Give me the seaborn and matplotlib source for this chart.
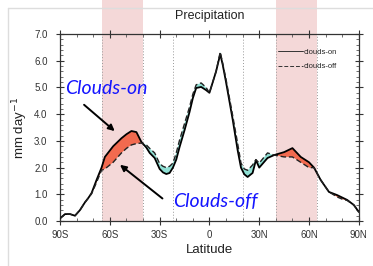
import numpy as np
import pandas as pd
import matplotlib
matplotlib.use("Agg")
import matplotlib.pyplot as plt
import matplotlib.transforms as mtransforms
from matplotlib.lines import Line2D
import seaborn as sns

# zonal mean precipitation (mm/day)
lat = [-90, -87, -84, -81, -78, -75, -73, -71, -68, -65, -63, -58, -53, -50, -47, -44, -41,
       -38, -36, -33, -30, -28, -26, -24, -22, -20, -18, -15, -12, -10, -8, -5, -2, 0, 4, 6.5, 8, 10,
       14, 17, 19, 21, 23, 26, 28, 30, 35, 39, 45, 50, 55, 60, 63, 67, 72, 77, 80, 83, 87, 90]
clouds_on = [0.10, 0.26, 0.26, 0.20, 0.41, 0.70, 0.86, 1.05, 1.54, 2.00, 2.40, 2.80, 3.10, 3.25, 3.37, 3.33, 2.96,
             2.75, 2.55, 2.36, 1.95, 1.82, 1.76, 1.80, 2.00, 2.30, 2.77, 3.40, 4.08, 4.60, 4.98, 5.02, 4.90, 4.80, 5.60, 6.25, 5.85, 5.20,
             3.80, 2.65, 2.00, 1.75, 1.65, 1.80, 2.28, 2.00, 2.36, 2.47, 2.58, 2.73, 2.40, 2.20, 2.00, 1.54, 1.09, 0.97, 0.88, 0.79, 0.60, 0.34]
clouds_off = [0.10, 0.26, 0.26, 0.20, 0.41, 0.70, 0.86, 1.02, 1.45, 1.90, 1.95, 2.20, 2.55, 2.72, 2.85, 2.90, 2.92,
              2.85, 2.72, 2.55, 2.15, 2.05, 2.00, 2.05, 2.17, 2.55, 3.03, 3.65, 4.27, 4.75, 5.10, 5.17, 5.00, 4.80, 5.60, 6.33, 5.90, 5.30,
              3.95, 2.90, 2.17, 1.95, 1.90, 2.10, 2.30, 2.17, 2.55, 2.47, 2.40, 2.40, 2.20, 2.00, 2.00, 1.54, 1.09, 0.90, 0.82, 0.77, 0.60, 0.34]

xticks = [-90, -60, -30, 0, 30, 60, 90]
xticklabels = ["90S", "60S", "30S", "0", "30N", "60N", "90N"]
bands = [(-65, -40), (40, 65)]
dotted_lats = [-65, -40, -22, 20, 40, 65]

df = pd.DataFrame({"lat": lat, "on": clouds_on, "off": clouds_off})

sns.set_style("ticks")
plt.rcParams["font.family"] = ["Liberation Sans", "DejaVu Sans"]

fig = plt.figure(figsize=(3.73, 2.66), dpi=100)
ax = fig.add_axes([0.161, 0.169, 0.801, 0.703])

# highlighted latitude bands (run up past the top of the axes)
trans = mtransforms.blended_transform_factory(ax.transData, fig.transFigure)
for a, b in bands:
    ax.add_patch(plt.Rectangle((a, 0.169), b - a, 1 - 0.169, transform=trans,
                               color="#f4d8d8", zorder=0, clip_on=False, lw=0))
for x in dotted_lats:
    ax.axvline(x, color="#999999", ls=(0, (1, 2)), lw=0.7, zorder=1)

on = np.array(clouds_on)
off = np.array(clouds_off)
ax.fill_between(df["lat"], on, off, where=on >= off, interpolate=True,
                color="#f26a4f", lw=0, zorder=2)
ax.fill_between(df["lat"], on, off, where=on < off, interpolate=True,
                color="#8fe0d4", lw=0, zorder=2)

sns.lineplot(data=df, x="lat", y="on", color="black", lw=1.3, ax=ax, zorder=3)
sns.lineplot(data=df, x="lat", y="off", color="#222222", lw=1.0, ls=(0, (4, 2)), ax=ax, zorder=3)

ax.set_xlim(-90, 90)
ax.set_ylim(0, 7)
ax.set_xticks(xticks)
ax.set_xticklabels(xticklabels)
ax.set_xticks(np.arange(-90, 91, 10), minor=True)
ax.set_yticks(np.arange(0, 7.1, 1))
ax.set_yticklabels([f"{v:.1f}" for v in np.arange(0, 7.1, 1)])
ax.set_yticks(np.arange(0, 7.01, 0.2), minor=True)
ax.tick_params(which="major", direction="inout", length=6, width=0.8, labelsize=7,
               top=True, right=True, colors="#333333")
ax.tick_params(axis="y", which="major", pad=6)
ax.tick_params(which="minor", direction="in", length=2.5, width=0.6,
               top=True, right=True, colors="#555555")
for s in ax.spines.values():
    s.set_linewidth(0.9)
    s.set_color("#333333")

ax.set_title("Precipitation", fontsize=9, pad=11, color="#222222")
ax.set_xlabel("Latitude", fontsize=9.5, labelpad=3, color="#222222")
ax.set_ylabel("mm day$^{-1}$", fontsize=9.5, labelpad=3, color="#222222")

handles = [Line2D([], [], color="#333333", lw=0.7),
           Line2D([], [], color="#333333", lw=0.7, ls=(0, (4, 2)))]
ax.legend(handles, ["clouds-on", "clouds-off"], loc="upper right",
          bbox_to_anchor=(0.945, 0.95), frameon=False, fontsize=5.5,
          handlelength=3.2, handletextpad=0.1, labelspacing=0.9, borderpad=0.2)

# annotations
ax.annotate("", xy=(-55.8, 3.3), xytext=(-76.8, 4.42),
            arrowprops=dict(arrowstyle="-|>", color="black", lw=1.4, mutation_scale=9))
ax.annotate("", xy=(-55.2, 2.17), xytext=(-27, 0.78),
            arrowprops=dict(arrowstyle="-|>", color="black", lw=1.4, mutation_scale=9))
ax.text(-62.4, 4.98, "Clouds-on", color="#1515ff", fontsize=14, style="italic",
        family=["Lato", "DejaVu Sans"], ha="center", va="center")
ax.text(3.6, 0.75, "Clouds-off", color="#1515ff", fontsize=14, style="italic",
        family=["Lato", "DejaVu Sans"], ha="center", va="center")

# faint frame around the figure
fig.add_artist(Line2D([8 / 373, 8 / 373], [0, 1 - 8 / 266], color="#dddddd", lw=1,
                      transform=fig.transFigure))
fig.add_artist(Line2D([8 / 373, 1], [1 - 8 / 266, 1 - 8 / 266], color="#dddddd", lw=1,
                      transform=fig.transFigure))

fig.savefig("out.png", dpi=100)
